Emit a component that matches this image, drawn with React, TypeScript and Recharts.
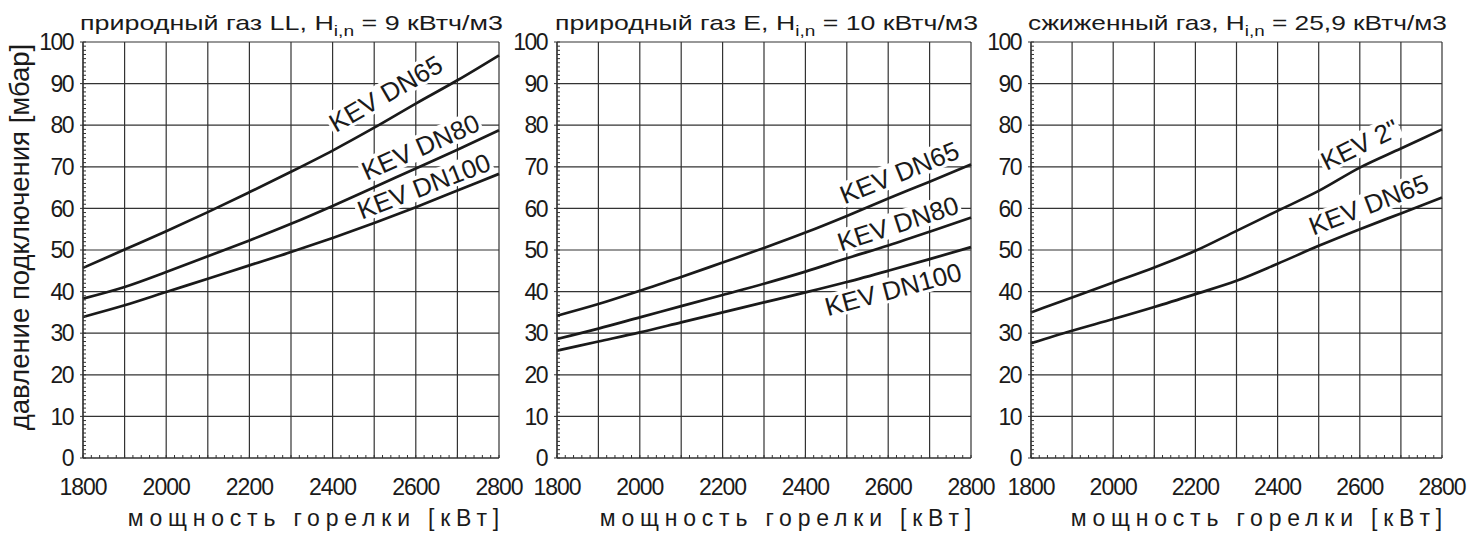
import React, { useLayoutEffect, useRef, useState } from 'react'
import { LineChart, Line, XAxis, YAxis, CartesianGrid } from 'recharts'

// мощность горелки, кВт
const POWER = [1800, 1900, 2000, 2100, 2200, 2300, 2400, 2500, 2600, 2700, 2800]

// природный газ LL
const LL_DN65 = [45.7, 50.1, 54.5, 59.1, 63.9, 68.8, 73.9, 79.4, 85.2, 90.8, 96.8]
const LL_DN80 = [38.3, 41.1, 44.7, 48.5, 52.3, 56.3, 60.6, 65.1, 69.6, 74.1, 78.8]
const LL_DN100 = [33.9, 36.7, 39.9, 43.1, 46.3, 49.5, 52.9, 56.5, 60.3, 64.3, 68.3]

// природный газ E
const E_DN65 = [34.2, 37.0, 40.2, 43.5, 47.0, 50.5, 54.2, 58.2, 62.4, 66.4, 70.6]
const E_DN80 = [28.6, 31.1, 33.8, 36.5, 39.2, 41.9, 44.8, 48.0, 51.1, 54.4, 57.8]
const E_DN100 = [25.8, 28.0, 30.2, 32.6, 35.0, 37.4, 39.8, 42.3, 45.0, 47.8, 50.7]

// сжиженный газ
const LPG_2IN = [35.0, 38.6, 42.2, 45.8, 49.8, 54.6, 59.4, 64.2, 69.8, 74.4, 79.0]
const LPG_DN65 = [27.6, 30.6, 33.4, 36.3, 39.4, 42.6, 46.7, 51.0, 55.0, 58.8, 62.6]

const X_GRID = POWER
const X_MINOR = Array.from({ length: 51 }, (_, i) => 1800 + i * 20)
const Y_MAJOR = [0, 10, 20, 30, 40, 50, 60, 70, 80, 90, 100]
const Y_MINOR = Array.from({ length: 101 }, (_, i) => i)

const X_TITLE = 'мощность горелки  [кВт]'
const Y_TITLE = 'давление подключения [мбар]'

const FONT = 'Arial, "Liberation Sans", sans-serif'
const INK = '#1a1a1a'
const GRID = '#333'
const LABEL_SIZE = 26

interface SeriesCfg {
  key: string
  values: number[]
  text: string
  at: number      // индекс точки для подписи
  along: number
  normal: number
  angle: number
}

interface PanelCfg {
  title: [string, string, string]
  titleX: number
  titleW: number
  plotLeft: number
  plotRight: number
  series: SeriesCfg[]
}

const PANELS: PanelCfg[] = [
  {
    title: ['природный газ LL, H', 'i,n', ' = 9 кВтч/м3'],
    titleX: 80, titleW: 423,
    plotLeft: 83, plotRight: 499,
    series: [
      { key: 'a', values: LL_DN65, text: 'KEV DN65', at: 7, along: 27, normal: 24, angle: 30 },
      { key: 'b', values: LL_DN80, text: 'KEV DN80', at: 8, along: 13, normal: 18, angle: 24 },
      { key: 'c', values: LL_DN100, text: 'KEV DN100', at: 8, along: 15, normal: 17, angle: 21 },
    ],
  },
  {
    title: ['природный газ E, H', 'i,n', ' = 10 кВтч/м3'],
    titleX: 555, titleW: 423,
    plotLeft: 557, plotRight: 971,
    series: [
      { key: 'a', values: E_DN65, text: 'KEV DN65', at: 8, along: 20, normal: 20, angle: 22 },
      { key: 'b', values: E_DN80, text: 'KEV DN80', at: 8, along: 16, normal: 18, angle: 18 },
      { key: 'c', values: E_DN100, text: 'KEV DN100', at: 8, along: 0, normal: -19, angle: 15 },
    ],
  },
  {
    title: ['сжиженный газ, H', 'i,n', ' = 25,9 кВтч/м3'],
    titleX: 1028, titleW: 419,
    plotLeft: 1031, plotRight: 1442,
    series: [
      { key: 'a', values: LPG_2IN, text: 'KEV 2"', at: 8, along: 10, normal: 21, angle: 26 },
      { key: 'b', values: LPG_DN65, text: 'KEV DN65', at: 8, along: 17, normal: 20, angle: 21 },
    ],
  },
]

const TOP = 42
const BOTTOM = 458
const Y_AXIS_W = 70
const RIGHT_PAD = 30

function XTick({ x, y, payload }: any) {
  const v = payload.value
  return (
    <g>
      <line x1={x} x2={x} y1={y} y2={y - 3} stroke={GRID} strokeWidth={1} />
      {v % 200 === 0 && (
        <text x={x} y={y + 37} textAnchor="middle" fontFamily={FONT} fontSize={23}
          letterSpacing={-1} fill={INK}>{v}</text>
      )}
    </g>
  )
}

function YTick({ x, y, payload }: any) {
  const v = payload.value
  const major = v % 10 === 0
  return (
    <g>
      <line x1={major ? x - 3 : x} x2={x + 3} y1={y} y2={y} stroke={GRID} strokeWidth={1} />
      {major && (
        <text x={x - 10} y={y} dy="0.36em" textAnchor="end" fontFamily={FONT} fontSize={23}
          letterSpacing={-1.5} fill={INK}>{v}</text>
      )}
    </g>
  )
}

// подпись кривой на белой подложке (гасит сетку под текстом)
function BoxedText({ x, y, text }: { x: number; y: number; text: string }) {
  const ref = useRef<SVGTextElement>(null)
  const [w, setW] = useState(0)
  useLayoutEffect(() => {
    if (ref.current) setW(ref.current.getComputedTextLength())
  }, [text])
  const h = LABEL_SIZE * 0.72 + 6
  return (
    <g>
      {w > 0 && <rect x={x - w / 2 - 2} y={y - h / 2} width={w + 4} height={h} fill="#fff" />}
      <text ref={ref} x={x} y={y} dy="0.36em" textAnchor="middle" fontFamily={FONT}
        fontSize={LABEL_SIZE} fill={INK}>{text}</text>
    </g>
  )
}

function curveLabel(cfg: SeriesCfg) {
  return (props: any) => {
    const { cx, cy, index } = props
    if (index !== cfg.at) return <g key={`d-${index}`} />
    return (
      <g key={`d-${index}`} transform={`translate(${cx},${cy}) rotate(${-cfg.angle})`}>
        <BoxedText x={cfg.along} y={-cfg.normal} text={cfg.text} />
      </g>
    )
  }
}

function Panel({ cfg }: { cfg: PanelCfg }) {
  const plotW = cfg.plotRight - cfg.plotLeft
  const data = POWER.map((p, i) => {
    const row: Record<string, number> = { p }
    cfg.series.forEach(s => { row[s.key] = s.values[i] })
    return row
  })
  return (
    <div style={{ position: 'absolute', left: cfg.plotLeft - Y_AXIS_W, top: 0 }}>
      <LineChart width={Y_AXIS_W + plotW + RIGHT_PAD} height={534} data={data}
        margin={{ top: TOP, right: RIGHT_PAD, bottom: 0, left: 0 }}>
        <CartesianGrid stroke={GRID} strokeWidth={1.2} horizontalValues={Y_MAJOR} verticalValues={X_GRID} />
        <XAxis type="number" dataKey="p" domain={[1800, 2800]} ticks={X_MINOR} interval={0}
          tickSize={0} tickMargin={0} tickLine={false} axisLine={{ stroke: GRID, strokeWidth: 1.2 }}
          height={534 - BOTTOM} tick={(p: any) => <XTick {...p} />} />
        <YAxis type="number" domain={[0, 100]} ticks={Y_MINOR} interval={0}
          tickSize={0} tickMargin={0} tickLine={false} axisLine={{ stroke: GRID, strokeWidth: 1.2 }}
          width={Y_AXIS_W} tick={(p: any) => <YTick {...p} />} />
        {/* сначала подписи, затем сами кривые поверх */}
        {cfg.series.map(s => (
          <Line key={`lbl-${s.key}`} dataKey={s.key} stroke="none" legendType="none"
            dot={curveLabel(s)} activeDot={false} isAnimationActive={false} />
        ))}
        {cfg.series.map(s => (
          <Line key={s.key} dataKey={s.key} type="monotone" stroke={INK} strokeWidth={2.7}
            dot={false} activeDot={false} isAnimationActive={false} />
        ))}
      </LineChart>
    </div>
  )
}

export default function App() {
  return (
    <div style={{ position: 'absolute', left: 0, top: 0, width: 1474, height: 534, background: '#fff', overflow: 'hidden' }}>
      {PANELS.map((p, i) => <Panel key={i} cfg={p} />)}
      <svg width={1474} height={534} style={{ position: 'absolute', left: 0, top: 0, pointerEvents: 'none' }}>
        {PANELS.map((p, i) => (
          <g key={i}>
            <text x={p.titleX} y={30} fontFamily={FONT} fontSize={21} fill={INK}
              textLength={p.titleW} lengthAdjust="spacingAndGlyphs">
              {p.title[0]}
              <tspan dy={6} fontSize={15}>{p.title[1]}</tspan>
              <tspan dy={-6}>{p.title[2]}</tspan>
            </text>
            <text x={p.plotRight + 6} y={526} textAnchor="end" fontFamily={FONT} fontSize={23}
              letterSpacing={5.8} fill={INK}>{X_TITLE}</text>
          </g>
        ))}
        <text transform="translate(29,237) rotate(-90)" textAnchor="middle" fontFamily={FONT}
          fontSize={27.5} fill={INK}>{Y_TITLE}</text>
      </svg>
    </div>
  )
}
